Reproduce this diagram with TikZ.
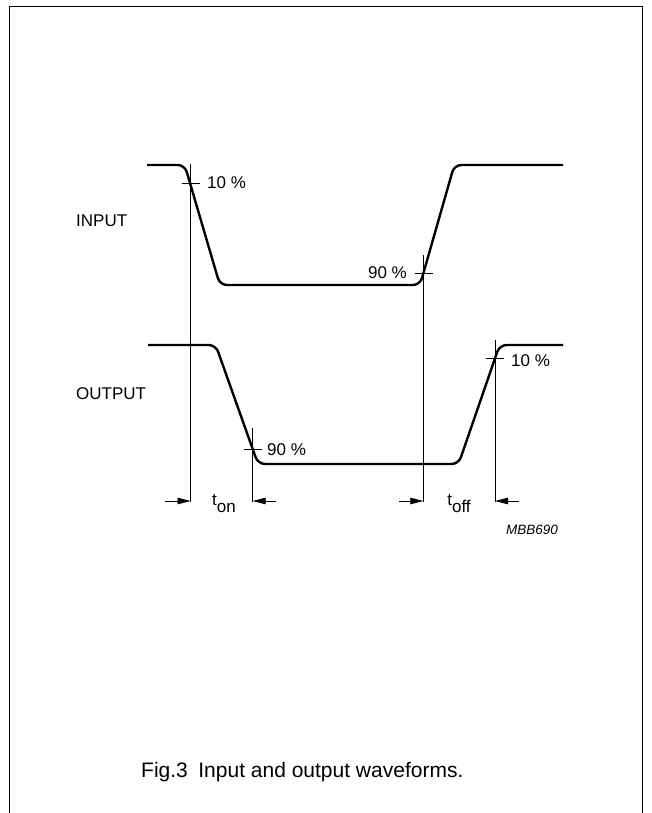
\documentclass[tikz,border=0pt]{standalone}
\usepackage{fontspec}
\setmainfont{Liberation Sans}
\usetikzlibrary{arrows.meta}
\begin{document}
\begin{tikzpicture}[x=1pt,y=-1pt,
  wave/.style={line width=2.4pt, rounded corners=7pt, line join=round},
  thinline/.style={line width=0.8pt},
  lbl/.style={inner sep=0pt, font=\fontsize{17}{20}\selectfont},
  dimarrow/.style={line width=0.8pt, -{Triangle[length=13pt,width=6.5pt]}}]
\useasboundingbox (0,0) rectangle (652,813);
% frame
\draw[line width=1.5pt] (9.5,813) -- (9.5,6.5) -- (642.5,6.5) -- (642.5,813);
% input waveform
\draw[wave] (147,165) -- (184.7,165) -- (219.9,285) -- (420,285) -- (454.3,165) -- (563,165);
% output waveform
\draw[wave] (148,345) -- (215.7,345) -- (258,464) -- (458.6,464) -- (499.6,345) -- (563,345);
% reference coordinates
\coordinate (a1) at (190.5,164);  \coordinate (a2) at (190.5,502);
\coordinate (b1) at (423.3,255);  \coordinate (b2) at (423.3,502);
\coordinate (c1) at (252.7,428);  \coordinate (c2) at (252.7,502);
\coordinate (d1) at (495,340);    \coordinate (d2) at (495,502);
\draw[thinline] (a1) -- (a2);
\draw[thinline] (b1) -- (b2);
\draw[thinline] (c1) -- (c2);
\draw[thinline] (d1) -- (d2);
% ticks
\draw[thinline] (182,183.3) -- (200,183.3);
\draw[thinline] (414.5,273.5) -- (432.5,273.5);
\draw[thinline] (243.5,449) -- (261.7,449);
\draw[thinline] (486,358.3) -- (504,358.3);
% labels
\node[lbl, anchor=west] (p1) at (207,183) {10 \%};
\node[lbl, anchor=east] (p2) at (407,273) {90 \%};
\node[lbl, anchor=west] (p3) at (267,450) {90 \%};
\node[lbl, anchor=west] (p4) at (511,361) {10 \%};
\node[lbl, anchor=west] (in) at (76,221) {INPUT};
\node[lbl, anchor=west] (out) at (76,394) {OUTPUT};
% dimension arrows
\coordinate (e1) at (165,501); \coordinate (e2) at (190.5,501);
\coordinate (f1) at (276,501); \coordinate (f2) at (252.7,501);
\coordinate (g1) at (399,501); \coordinate (g2) at (423.3,501);
\coordinate (h1) at (519,501); \coordinate (h2) at (495,501);
\draw[dimarrow] (e1) -- (e2);
\draw[dimarrow] (f1) -- (f2);
\draw[dimarrow] (g1) -- (g2);
\draw[dimarrow] (h1) -- (h2);
\node[lbl, anchor=base] (ton) at (224,505) {t\raisebox{-7pt}{on}};
\node[lbl, anchor=base] (toff) at (459,505) {t\raisebox{-7pt}{off}};
\node[inner sep=0pt, font=\fontsize{13.5}{16}\selectfont\itshape, anchor=east] (code) at (558,530) {MBB690};
% caption
\node[inner sep=0pt, font=\fontsize{21}{25}\selectfont, anchor=west] (cap) at (141,772) {Fig.3\hspace{0.5em}Input and output waveforms.};
\end{tikzpicture}
\end{document}
